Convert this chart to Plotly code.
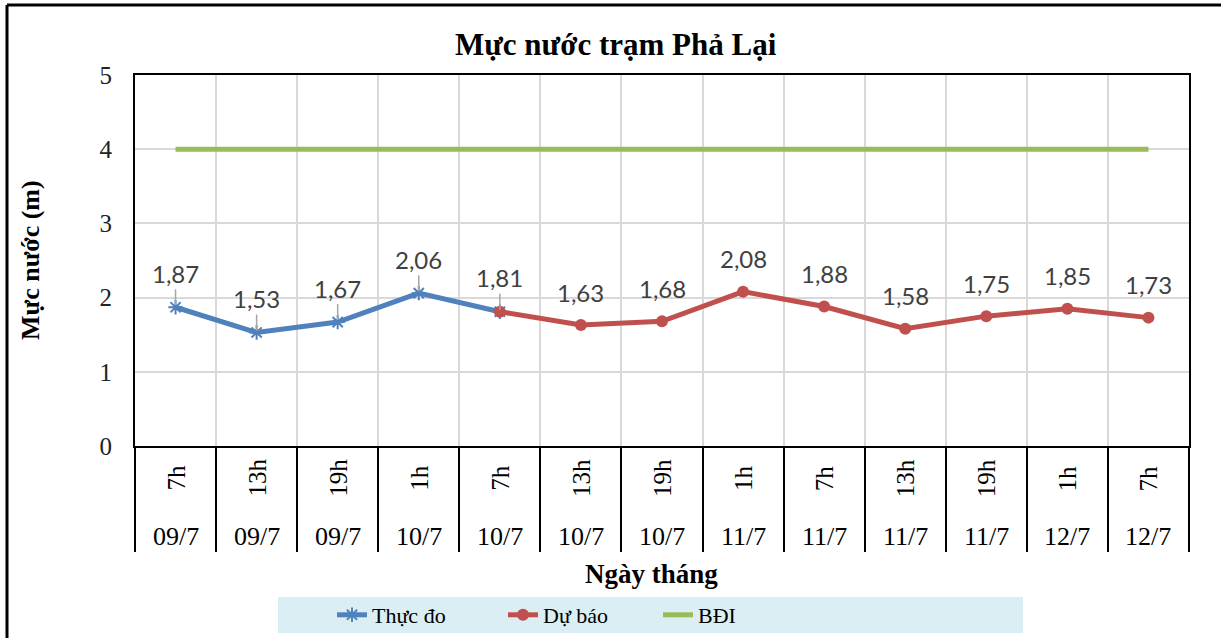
import plotly.graph_objects as go

times = ["7h", "13h", "19h", "1h", "7h", "13h", "19h", "1h", "7h", "13h", "19h", "1h", "7h"]
dates = ["09/7", "09/7", "09/7", "10/7", "10/7", "10/7", "10/7", "11/7", "11/7", "11/7", "11/7", "12/7", "12/7"]
thuc_do = [1.87, 1.53, 1.67, 2.06, 1.81]
du_bao = [1.81, 1.63, 1.68, 2.08, 1.88, 1.58, 1.75, 1.85, 1.73]
bdi = [4] * 13
y_ticks = [0, 1, 2, 3, 4, 5]

x_all = list(range(len(times)))
x_td = x_all[:len(thuc_do)]
x_db = x_all[len(thuc_do) - 1:]

SERIF = "Liberation Serif"
LBL = "Lato"

# pixel helpers (plot area: x 135..1189, y 75..446)
def px(x):
    return (x - 135) / 1054

def py(y):
    return (446 - y) / 371

fig = go.Figure()
fig.add_trace(go.Scatter(x=x_td, y=thuc_do, mode="lines+markers", name="Thực đo",
                         legend="legend",
                         line=dict(color="#4F81BD", width=5),
                         marker=dict(symbol="asterisk-open", size=12, color="#4F81BD",
                                     line=dict(color="#4F81BD", width=2))))
fig.add_trace(go.Scatter(x=x_db, y=du_bao, mode="lines+markers", name="Dự báo",
                         legend="legend2",
                         line=dict(color="#C0504D", width=5),
                         marker=dict(symbol="circle", size=12, color="#C0504D")))
fig.add_trace(go.Scatter(x=x_all, y=bdi, mode="lines", name="BĐI",
                         legend="legend3",
                         line=dict(color="#9BBB59", width=5)))

anns = []
# data labels
for i, v in zip(x_td, thuc_do):
    anns.append(dict(x=i, y=v, xref="x", yref="y", text=f"{v:.2f}".replace(".", ","),
                     showarrow=True, arrowhead=0, arrowwidth=1.5, arrowcolor="#A6A6A6",
                     ax=0, ay=-34, standoff=2,
                     font=dict(family=LBL, size=24, color="#404040")))
for i, v in zip(x_db[1:], du_bao[1:]):
    anns.append(dict(x=i, y=v, xref="x", yref="y", text=f"{v:.2f}".replace(".", ","),
                     showarrow=False, yshift=33, xanchor="center", yanchor="middle",
                     font=dict(family=LBL, size=24, color="#404040")))
# category labels
for i, (t, d) in enumerate(zip(times, dates)):
    anns.append(dict(x=i, y=py(478), xref="x", yref="paper", text=t, showarrow=False,
                     textangle=-90, xanchor="center", yanchor="middle",
                     font=dict(family=SERIF, size=25, color="#000000")))
    anns.append(dict(x=i, y=py(536), xref="x", yref="paper", text=d, showarrow=False,
                     xanchor="center", yanchor="middle",
                     font=dict(family=SERIF, size=26, color="#000000")))
# axis titles
anns.append(dict(x=px(651), y=py(574), xref="paper", yref="paper",
                 text="<b>Ngày tháng</b>", showarrow=False, xanchor="center", yanchor="middle",
                 font=dict(family=SERIF, size=27, color="#000000")))
anns.append(dict(x=px(30), y=py(260), xref="paper", yref="paper",
                 text="<b>Mực nước (m)</b>", showarrow=False, textangle=-90,
                 xanchor="center", yanchor="middle",
                 font=dict(family=SERIF, size=26, color="#000000")))
# title
anns.append(dict(x=px(616), y=py(45), xref="paper", yref="paper",
                 text="<b>Mực nước trạm Phả Lại</b>", showarrow=False,
                 xanchor="center", yanchor="middle",
                 font=dict(family=SERIF, size=31, color="#000000")))

shapes = [
    # legend background
    dict(type="rect", xref="paper", yref="paper",
         x0=px(278), x1=px(1023), y0=py(633), y1=py(597),
         fillcolor="#DAEEF3", line=dict(width=0), layer="below"),
    # outer frame (top & left)
    dict(type="line", xref="paper", yref="paper",
         x0=px(7), x1=px(1230), y0=py(5), y1=py(5), line=dict(color="#000000", width=3)),
    dict(type="line", xref="paper", yref="paper",
         x0=px(7), x1=px(7), y0=py(5), y1=py(650), line=dict(color="#000000", width=3)),
]

leg_common = dict(orientation="h", xanchor="left", yanchor="middle", y=py(615),
                  bgcolor="rgba(0,0,0,0)", font=dict(family=SERIF, size=22, color="#000000"))

fig.update_layout(
    width=1221, height=638,
    margin=dict(l=135, r=32, t=75, b=192, autoexpand=False),
    paper_bgcolor="white", plot_bgcolor="white",
    showlegend=True,
    legend=dict(x=px(332), **leg_common),
    legend2=dict(x=px(503), **leg_common),
    legend3=dict(x=px(658), **leg_common),
    annotations=anns,
    shapes=shapes,
)
fig.update_xaxes(range=[-0.5, 12.5], tickvals=[i - 0.5 for i in range(14)],
                 showticklabels=False, ticks="outside", ticklen=104, tickwidth=2,
                 tickcolor="#000000", showgrid=True, gridcolor="#D9D9D9", gridwidth=2,
                 showline=True, linecolor="#000000", linewidth=2, mirror=True,
                 zeroline=False)
fig.update_yaxes(range=[0, 5], tickvals=y_ticks, showgrid=True, gridcolor="#D9D9D9",
                 gridwidth=2, showline=True, linecolor="#000000", linewidth=2, mirror=True,
                 zeroline=False, ticks="", ticklabelstandoff=16,
                 tickfont=dict(family=SERIF, size=25, color="#222222"))

fig.write_html(
    "out.html",
    config={"displayModeBar": False},
    post_script=(
        "document.documentElement.style.margin='0';"
        "document.documentElement.style.padding='0';"
        "document.documentElement.style.overflow='hidden';"
        "document.body.style.margin='0';"
        "document.body.style.padding='0';"
        "document.body.style.overflow='hidden';"
    ),
)
